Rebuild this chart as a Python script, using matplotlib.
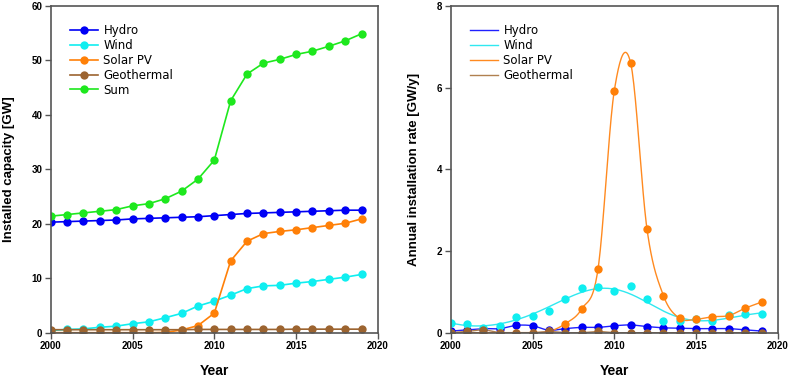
import numpy as np
import matplotlib
matplotlib.use('Agg')
import matplotlib.pyplot as plt

# Data
years = list(range(2000, 2020))

# Installed capacity [GW]
cap_hydro = [20.3, 20.4, 20.5, 20.6, 20.7, 20.9, 21.0, 21.1, 21.2, 21.3,
             21.5, 21.7, 21.9, 22.0, 22.1, 22.2, 22.3, 22.4, 22.5, 22.5]
cap_wind = [0.4, 0.6, 0.7, 1.0, 1.2, 1.65, 2.0, 2.75, 3.55, 4.9,
            5.8, 6.9, 8.1, 8.6, 8.7, 9.1, 9.4, 9.8, 10.2, 10.7]
cap_solar = [0.0, 0.0, 0.0, 0.0, 0.0, 0.0, 0.0, 0.05, 0.5, 1.3,
             3.6, 13.2, 16.8, 18.2, 18.6, 18.9, 19.3, 19.7, 20.1, 20.9]
cap_geo = [0.55, 0.55, 0.55, 0.55, 0.55, 0.55, 0.55, 0.55, 0.55, 0.6,
           0.6, 0.6, 0.6, 0.6, 0.6, 0.65, 0.65, 0.65, 0.65, 0.65]
cap_sum = [21.4, 21.7, 22.0, 22.3, 22.6, 23.3, 23.7, 24.6, 26.0, 28.2,
           31.7, 42.6, 47.5, 49.5, 50.2, 51.1, 51.7, 52.6, 53.6, 54.9]

# Annual installation rate [GW/y]
rate_hydro = [0.04, 0.07, 0.1, 0.1, 0.18, 0.17, 0.06, 0.1, 0.13, 0.13,
              0.17, 0.19, 0.15, 0.12, 0.11, 0.1, 0.1, 0.1, 0.07, 0.04]
rate_wind = [0.23, 0.21, 0.12, 0.17, 0.38, 0.4, 0.54, 0.82, 1.09, 1.13,
             1.02, 1.15, 0.82, 0.29, 0.29, 0.33, 0.29, 0.43, 0.47, 0.46]
rate_solar = [0.0, 0.0, 0.0, 0.0, 0.0, 0.0, 0.03, 0.22, 0.58, 1.55,
              5.93, 6.6, 2.53, 0.91, 0.35, 0.33, 0.39, 0.42, 0.6, 0.75]
rate_geo = [0.0, 0.03, 0.07, 0.0, 0.0, 0.0, 0.03, 0.0, 0.0, 0.03,
            0.0, 0.0, 0.0, 0.0, 0.0, 0.0, 0.0, 0.0, 0.0, 0.0]

labels = ['Hydro', 'Wind', 'Solar PV', 'Geothermal', 'Sum']
colors = ['#0000f5', '#10eef0', '#ff8008', '#9c6430', '#1ee81e']
line_colors = ['#2020ff', '#30e8f0', '#ff8a20', '#b08050']


def catmull_rom(x, y, xs):
    # cubic hermite curve through the points, tangents from neighbours
    x = np.asarray(x, float)
    y = np.asarray(y, float)
    m = np.gradient(y, x)
    idx = np.clip(np.searchsorted(x, xs) - 1, 0, len(x) - 2)
    h = x[idx + 1] - x[idx]
    t = (xs - x[idx]) / h
    h00 = 2 * t**3 - 3 * t**2 + 1
    h10 = t**3 - 2 * t**2 + t
    h01 = -2 * t**3 + 3 * t**2
    h11 = t**3 - t**2
    return h00 * y[idx] + h10 * h * m[idx] + h01 * y[idx + 1] + h11 * h * m[idx + 1]


def local_quad(x, y, xs, bw):
    x = np.asarray(x, float)
    y = np.asarray(y, float)
    out = []
    for v in xs:
        w = np.exp(-0.5 * ((x - v) / bw) ** 2)
        p = np.polyfit(x - v, y, 2, w=np.sqrt(w))
        out.append(p[-1])
    return np.array(out)


plt.rcParams['font.family'] = ['Liberation Sans', 'DejaVu Sans']

fig = plt.figure(figsize=(8, 3.77), dpi=100)
ax1 = fig.add_axes([0.0634, 0.1175, 0.409, 0.8666])
ax2 = fig.add_axes([0.5634, 0.1175, 0.409, 0.8666])

# left panel: installed capacity
caps = [cap_hydro, cap_wind, cap_solar, cap_geo, cap_sum]
for vals, lab, col in zip(caps, labels, colors):
    ax1.plot(years, vals, '-o', color=col, lw=1.2, ms=6, label=lab,
             markeredgewidth=0)

# right panel: installation rate with smooth curves
xs = np.linspace(2000, 2019, 400)
rates = [rate_hydro, rate_wind, rate_solar, rate_geo]
for vals, lab, col, lc in zip(rates, labels, colors, line_colors):
    if lab == 'Wind':
        curve = local_quad(years, vals, xs, 2.2)
    else:
        curve = catmull_rom(years, vals, xs)
    ax2.plot(xs, curve, '-', color=lc, lw=1.0, label=lab)
for vals, col in zip(rates, colors):
    ax2.plot(years, vals, 'o', color=col, ms=6, markeredgewidth=0)

for ax, ylim, yt, ylab in [(ax1, 60, [0, 10, 20, 30, 40, 50, 60], 'Installed capacity [GW]'),
                           (ax2, 8, [0, 2, 4, 6, 8], 'Annual installation rate [GW/y]')]:
    ax.set_xlim(2000, 2020)
    ax.set_ylim(0, ylim)
    ax.set_xticks([2000, 2005, 2010, 2015, 2020])
    ax.set_yticks(yt)
    for s in ax.spines.values():
        s.set_color('#555555')
        s.set_linewidth(1.2)
    ax.tick_params(direction='out', length=4, width=1, color='#555555',
                   labelsize=7, pad=2)
    for t in ax.get_xticklabels() + ax.get_yticklabels():
        t.set_fontweight('bold')
    ax.set_xlabel('Year', fontsize=10, fontweight='bold', labelpad=9)
    ax.set_ylabel(ylab, fontsize=9.5, fontweight='bold', labelpad=12)
    ax.legend(loc='upper left', bbox_to_anchor=(0.026, 0.976), frameon=False,
              prop={'family': 'DejaVu Sans', 'size': 8.5},
              handlelength=2.4, handletextpad=0.45, labelspacing=0.15)

fig.savefig('out.png', dpi=100)
